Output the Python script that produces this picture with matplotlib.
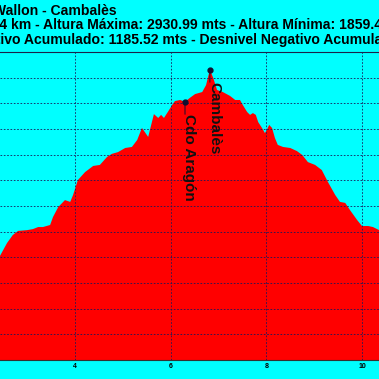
import matplotlib
matplotlib.use('Agg')
import matplotlib.pyplot as plt

# profile (km, metres)
km = [2.43, 2.58, 2.70, 2.81, 3.00, 3.12, 3.23, 3.33, 3.48, 3.54, 3.65,
      3.79, 3.90, 3.96, 4.06, 4.21, 4.38, 4.52, 4.67, 4.77, 4.90, 5.05,
      5.19, 5.30, 5.40, 5.46, 5.53, 5.65, 5.74, 5.80, 5.86, 5.94, 6.03,
      6.09, 6.20, 6.30, 6.40, 6.51, 6.66, 6.74, 6.82, 6.89, 6.97, 7.09,
      7.24, 7.35, 7.45, 7.51, 7.60, 7.66, 7.72, 7.78, 7.83, 7.91, 7.97,
      8.01, 8.06, 8.12, 8.18, 8.24, 8.35, 8.50, 8.64, 8.75, 8.87, 9.02,
      9.16, 9.29, 9.44, 9.54, 9.65, 9.75, 9.90, 10.00, 10.13, 10.23, 10.36]
alt = [2205, 2256, 2287, 2303, 2306, 2310, 2318, 2318, 2326, 2357, 2396,
       2423, 2416, 2443, 2501, 2532, 2556, 2560, 2591, 2603, 2610, 2626,
       2630, 2657, 2704, 2688, 2669, 2758, 2743, 2755, 2743, 2766, 2793,
       2809, 2813, 2806, 2821, 2836, 2844, 2871, 2931, 2899, 2852, 2844,
       2829, 2813, 2813, 2793, 2766, 2755, 2762, 2755, 2727, 2704, 2684,
       2696, 2716, 2704, 2665, 2638, 2630, 2626, 2614, 2599, 2571, 2560,
       2540, 2493, 2443, 2416, 2412, 2384, 2345, 2322, 2322, 2318, 2306]

point_km = [6.30, 6.82]
point_alt = [2806, 2931]
point_names = ['Cdo Aragón', 'Cambalès']

x_ticks = [4, 6, 8, 10]
y_ticks = list(range(1800, 3001, 100))

title_lines = ['Refugio Wallon - Cambalès',
               'Distancia Total: 13.64 km - Altura Máxima: 2930.99 mts - '
               'Altura Mínima: 1859.41 mts',
               'Desnivel Positivo Acumulado: 1185.52 mts - '
               'Desnivel Negativo Acumulado: 1185.52 mts']

BG = '#00FFFF'
FILL = '#FF0000'
FONT = 'Liberation Sans'
W = H = 379

fig = plt.figure(figsize=(3.79, 3.79), dpi=100, facecolor=BG)
ax = fig.add_axes([0, 19 / H, 1, 308 / H], facecolor=BG)

ax.fill_between(km, alt, 0, color=FILL, lw=0, zorder=1)
ax.set_xlim(2.432, 10.356)
ax.set_ylim(1800, 3000)
ax.set_xticks(x_ticks)
ax.set_xticklabels([str(t) for t in x_ticks], fontsize=5, weight='bold',
                   family=FONT)
ax.set_yticks(y_ticks)
ax.set_yticklabels([])
ax.tick_params(length=0, pad=2)
ax.set_axisbelow(False)
ax.grid(True, color='#1a1a5a', lw=0.6, ls=(0, (2, 2)))
ax.spines['left'].set_visible(False)
ax.spines['right'].set_visible(False)
ax.spines['top'].set_color('#1a2a40')
ax.spines['bottom'].set_color('#333333')

for x, y, name in zip(point_km, point_alt, point_names):
    ax.plot(x, y, 'o', ms=3.5, color='#101030', zorder=4)
    ax.annotate('', xy=(x, y), xytext=(0, -9), textcoords='offset points',
                arrowprops=dict(arrowstyle='-', lw=0.7, color='#101030',
                                shrinkA=0, shrinkB=0), zorder=4)
    ax.annotate(name, (x, y), xytext=(0, -9), textcoords='offset points',
                rotation=-90, rotation_mode='anchor', ha='left',
                va='baseline', fontsize=11, weight='bold', family=FONT,
                color='#111111', zorder=5)

# title lines: the chart is a crop, so each line is placed by a visible anchor
tkw = dict(fontsize=10.05, weight='bold', family=FONT, color='black',
           va='baseline')
renderer = fig.canvas.get_renderer()


def text_width(s):
    t = fig.text(0, 0, s, **tkw)
    w = t.get_window_extent(renderer).width
    t.remove()
    return w


fig.text(117 / W, 1 - 15 / H, title_lines[0], ha='right', **tkw)
x2 = 0 - text_width(title_lines[1].split('4 km')[0]) - 1
fig.text(x2 / W, 1 - 29.3 / H, title_lines[1], ha='left', **tkw)
x3 = 1 - text_width('Desnivel Posit') - 1
fig.text(x3 / W, 1 - 44.3 / H, title_lines[2], ha='left', **tkw)

plt.savefig('out.png', dpi=100, facecolor=BG)
